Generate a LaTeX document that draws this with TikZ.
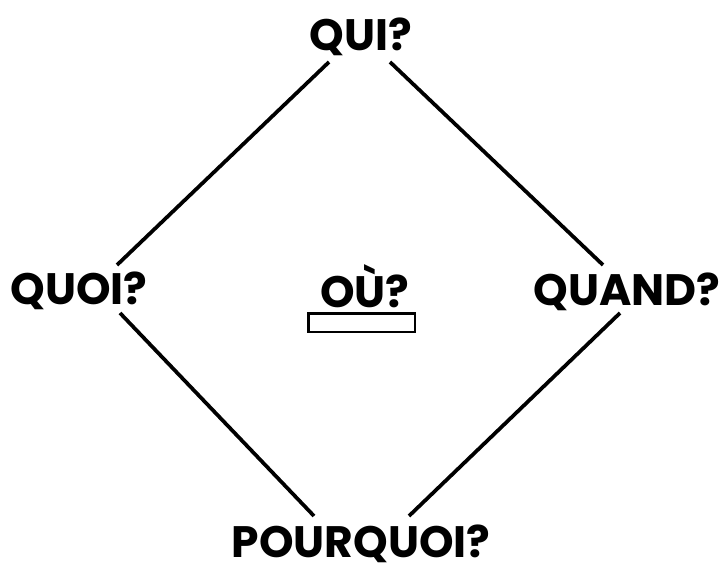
\documentclass[tikz,border=0pt]{standalone}
\usepackage{fontspec}
\setmainfont{Poppins}
\usetikzlibrary{positioning}

\tikzset{
  word/.style={font=\fontsize{33}{37}\selectfont\bfseries, inner sep=0pt, anchor=base},
  link/.style={line width=2.8pt, black},
}

\begin{document}
\begin{tikzpicture}[x=0.75pt, y=-0.75pt]
    \useasboundingbox (0,0) rectangle (724,574);
    % the five questions
    \node[word] (qui) at (361,51) {QUI?};
    \node[word] (quoi) at (79,304) {QUOI?};
    \node[word] (quand) at (627,305) {QUAND?};
    \node[word] (ou) at (365,307) {OÙ?};
    \node[word] (pourquoi) at (361,557) {POURQUOI?};
    \node[draw, line width=2pt, minimum width=80pt, minimum height=14pt, inner sep=0pt] (box) at (361.5,322.5) {};
    % diamond
    \draw[link] ([shift={(-32,11)}]qui.base) -- ([shift={(38,-39)}]quoi.base);
    \draw[link] ([shift={(29,11)}]qui.base) -- ([shift={(-24,-40)}]quand.base);
    \draw[link] ([shift={(41,9)}]quoi.base) -- ([shift={(-47,-41)}]pourquoi.base);
    \draw[link] ([shift={(-7,8)}]quand.base) -- ([shift={(48,-41)}]pourquoi.base);
\end{tikzpicture}
\end{document}
